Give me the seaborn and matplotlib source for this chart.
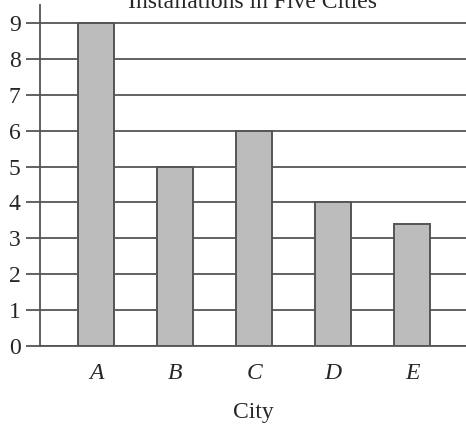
import matplotlib
matplotlib.use('Agg')
import matplotlib.pyplot as plt
import seaborn as sns
import pandas as pd

# ── Data ───────────────────────────────────────────────────────────────────────
cities = ['A', 'B', 'C', 'D', 'E']
installations = [9, 5, 6, 4, 3.4]
y_ticks = list(range(0, 10))

df = pd.DataFrame({'City': cities, 'Installations': installations})

sns.set_theme(style='white')
plt.rcParams['font.family'] = ['Liberation Serif', 'DejaVu Serif']

line_col = '#555555'

fig = plt.figure(figsize=(4.66, 4.24), dpi=100)
ax = fig.add_axes([40 / 466, 78 / 424, 426 / 466, 341 / 424])

# horizontal rules behind the bars
for v in y_ticks:
    ax.axhline(v, color=line_col, lw=1.3, zorder=0)

sns.barplot(data=df, x='City', y='Installations', color='#bcbcbc',
            edgecolor=line_col, linewidth=1.4, width=0.46, saturation=1,
            ax=ax, zorder=2)

ax.set_xlim(-0.71, 4.68)
ax.set_ylim(0, 9.5)
ax.set_yticks(y_ticks)
ax.set_yticklabels([str(v) for v in y_ticks], fontsize=17)
ax.set_xticks(range(len(cities)))
ax.set_xticklabels(cities, fontsize=17, style='italic')
ax.tick_params(axis='y', left=True, length=10, width=1.3, color=line_col, pad=4)
ax.tick_params(axis='x', bottom=False, pad=6)
ax.set_xlabel('City', fontsize=17, labelpad=13)
ax.set_ylabel('')

for s in ['top', 'right']:
    ax.spines[s].set_visible(False)
for s in ['left', 'bottom']:
    ax.spines[s].set_color(line_col)
    ax.spines[s].set_linewidth(1.3)

ax.set_title('Installations in Five Cities', fontsize=17, y=1.0, pad=-2)

fig.savefig('out.png', dpi=100)
